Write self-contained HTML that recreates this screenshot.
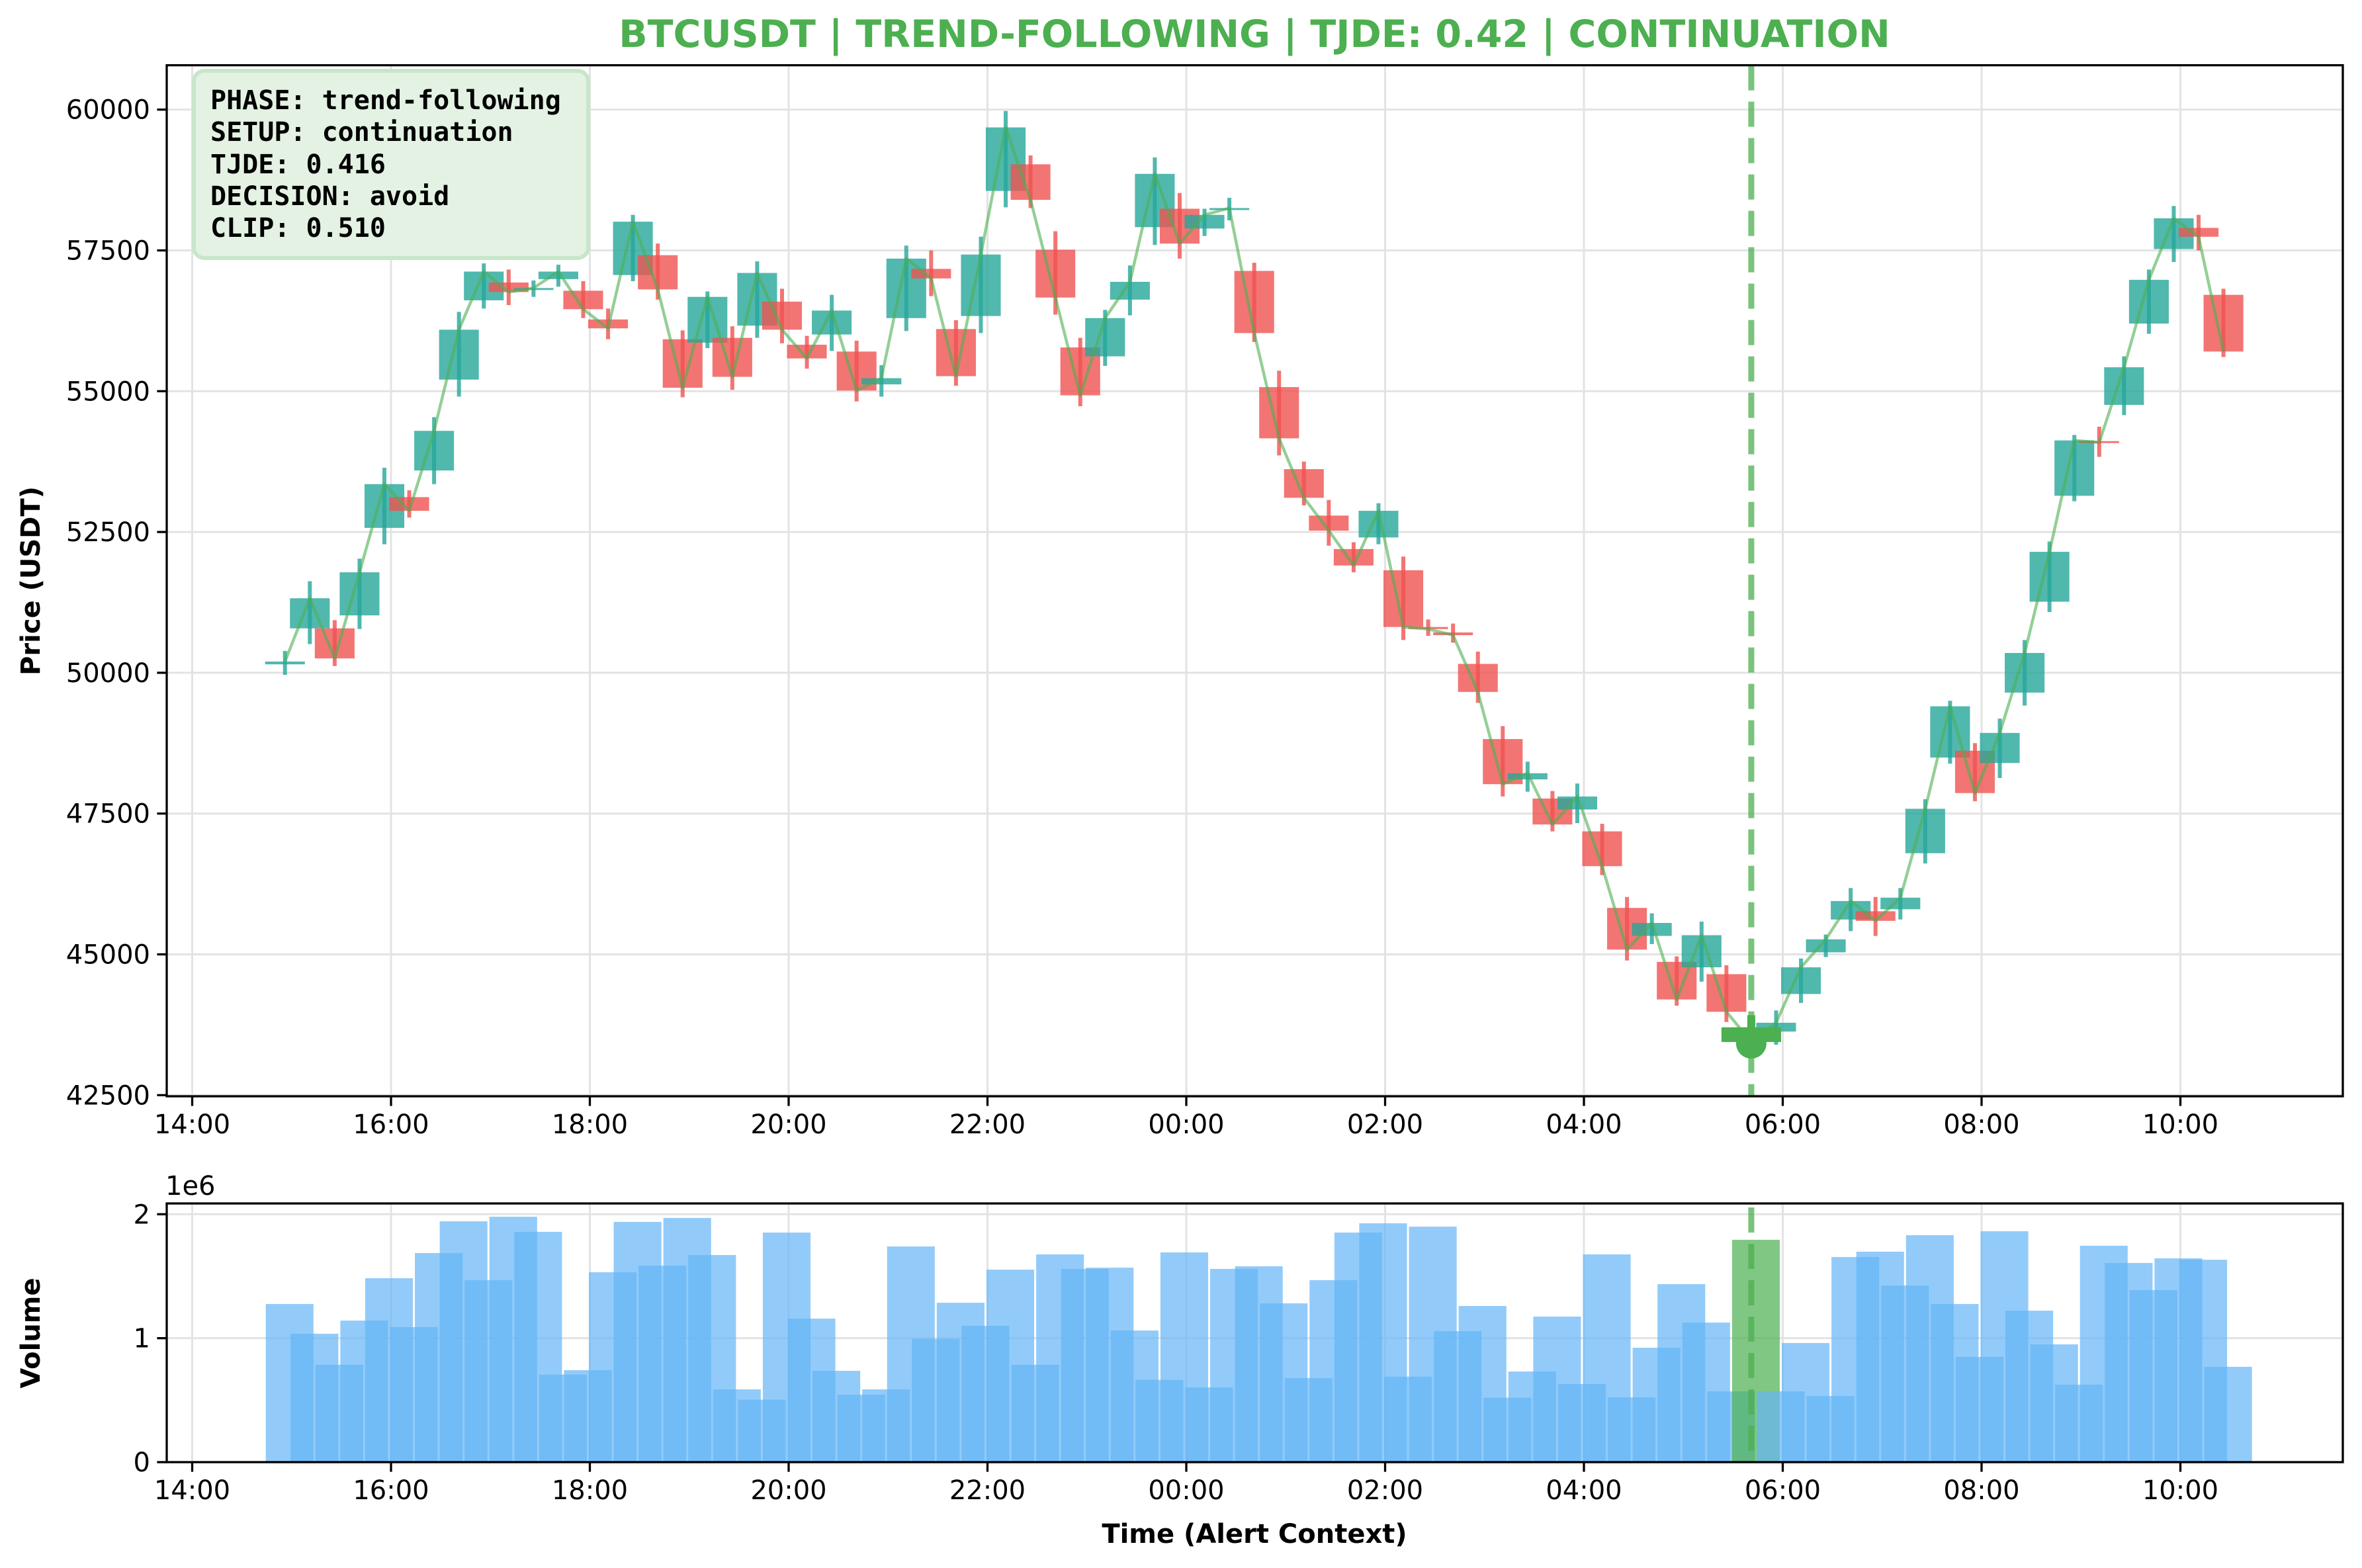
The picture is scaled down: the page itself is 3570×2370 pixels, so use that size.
<!DOCTYPE html>
<html>
<head>
<meta charset="utf-8">
<style>
html,body{margin:0;padding:0;background:#fff;}
svg{display:block;font-family:"DejaVu Sans","Liberation Sans",sans-serif;}
</style>
</head>
<body>
<svg id="chart" xmlns="http://www.w3.org/2000/svg" width="3570" height="2370" viewBox="0 0 3570 2370">
<rect x="0" y="0" width="3570" height="2370" fill="#fff"/>
<text x="1896" y="71" text-anchor="middle" font-size="57" font-weight="bold" fill="#4caf50">BTCUSDT | TREND-FOLLOWING | TJDE: 0.42 | CONTINUATION</text>
<g id="priceGrid"></g>
<g id="volGrid"></g>
<g id="volBars"></g>
<g id="candles"></g>
<g id="overlay"></g>
<g id="axes"></g>
<g>
<rect x="293" y="107" width="596" height="283" rx="16" ry="16" fill="#e3f2e3" stroke="#c8e6c9" stroke-width="6"/>
<text font-family="'DejaVu Sans Mono','Liberation Mono',monospace" font-size="40" font-weight="bold" fill="#000">
<tspan x="318" y="165">PHASE: trend-following</tspan>
<tspan x="318" y="213">SETUP: continuation</tspan>
<tspan x="318" y="262">TJDE: 0.416</tspan>
<tspan x="318" y="310">DECISION: avoid</tspan>
<tspan x="318" y="358">CLIP: 0.510</tspan>
</text>
</g>
<text x="60" y="878" text-anchor="middle" font-size="40" font-weight="bold" transform="rotate(-90 60 878)">Price (USDT)</text>
<text x="60" y="2015" text-anchor="middle" font-size="40" font-weight="bold" transform="rotate(-90 60 2015)">Volume</text>
<text x="1896" y="2332" text-anchor="middle" font-size="40" font-weight="bold">Time (Alert Context)</text>
<text x="250" y="1806" font-size="40">1e6</text>
</svg>
<script>
// ---- data ----
const candleOpen  = [50150,50789,50789,51019,52573,53119,53592,55206,56614,56930,56808,56990,56784,56274,57063,57415,55922,55862,55947,56165,56590,55825,56007,55704,55121,56298,57172,56104,56335,58556,59029,57512,55777,55619,56626,57913,58240,57888,58228,57136,55073,53616,52791,52197,52403,51820,50813,50716,50158,48823,48107,47767,47573,47184,45825,45328,44867,44770,44648,43705,43629,44296,45036,45619,45765,45801,46796,48495,48616,48398,49648,51262,53143,54114,54757,56201,57524,57900,56711];
const candleClose = [50200,51323,50255,51784,53350,52876,54296,56092,57124,56760,56832,57124,56456,56116,58010,56808,55061,56675,55255,57100,56092,55582,56432,55012,55231,57354,57002,55267,57427,59684,58398,56663,54927,56298,56942,58859,57621,58131,58252,56032,54163,53107,52524,51905,52876,50813,50777,50668,49660,48022,48216,47306,47803,46566,45085,45558,44199,45340,43980,43444,43786,44770,45267,45947,45595,46007,47585,49405,47864,48932,50352,52148,54126,54090,55425,56978,58070,57743,55704];
const candleHigh  = [50388,51626,50934,52027,53641,53240,54539,56408,57269,57160,56966,57245,56954,56468,58131,57621,56080,56772,56153,57306,56820,55983,56711,55898,55461,57585,57500,56262,57743,59976,59187,57840,55947,56444,57233,59150,58519,58240,58434,57281,55364,53750,53070,52318,53010,52063,50947,50874,50376,49053,48422,47900,48034,47318,46019,45728,44964,45582,44806,43920,44005,44927,45352,46177,46019,46177,47755,49502,48750,49187,50582,52330,54223,54369,55619,57160,58289,58131,56820];
const candleLow   = [49963,50510,50121,50777,52282,52755,53350,54903,56468,56529,56675,56857,56298,55922,56954,56626,54891,55764,55024,55947,55850,55400,55716,54818,54903,56068,56687,55097,56032,58265,58252,56359,54733,55449,56347,57597,57354,57755,58034,55874,53859,52973,52257,51784,52282,50582,50655,50534,49466,47803,47888,47184,47330,46408,44891,45182,44090,44515,43798,43380,43397,44138,44952,45413,45328,45619,46614,48386,47718,48131,49417,51080,53046,53835,54575,56019,57294,57500,55607];
const volumeMillions = [1.276,1.036,0.786,1.142,1.484,1.089,1.687,1.943,1.468,1.98,1.858,0.706,0.742,1.532,1.938,1.585,1.97,1.671,0.587,0.504,1.852,1.158,0.737,0.544,0.587,1.74,0.993,1.286,1.1,1.553,0.786,1.676,1.559,1.569,1.062,0.664,1.692,0.603,1.559,1.58,1.281,0.678,1.468,1.852,1.927,0.69,1.9,1.057,1.26,0.52,0.731,1.174,0.63,1.676,0.523,0.923,1.436,1.126,0.571,1.794,0.571,0.961,0.534,1.655,1.698,1.425,1.831,1.276,0.849,1.863,1.222,0.95,0.625,1.746,1.607,1.388,1.644,1.633,0.769];
const priceTicks = [42500,45000,47500,50000,52500,55000,57500,60000];
const volumeTicks = [0,1,2];
const timeTickMinutes = [0,120,240,360,480,600,720,840,960,1080,1200];
const timeTickLabels = ["14:00","16:00","18:00","20:00","22:00","00:00","02:00","04:00","06:00","08:00","10:00"];
const firstCandleMinute = 56;   // 14:56
const candleStepMinutes = 15;
const signalIndex = 59;         // 05:41

// ---- layout ----
const NS = "http://www.w3.org/2000/svg";
const AX = {left:252, right:3541};
const P = {top:98.6, bottom:1657, ymin:42480, ymax:60788};
const V = {top:1819, bottom:2210, ymin:0, ymax:2.087};
const PX_PER_MIN = 150.25/60, X0 = 290.5;
function xScale(m){ return X0 + m*PX_PER_MIN; }
function yPrice(v){ return P.bottom - (v-P.ymin)/(P.ymax-P.ymin)*(P.bottom-P.top); }
function yVol(v){ return V.bottom - (v-V.ymin)/(V.ymax-V.ymin)*(V.bottom-V.top); }
function candleMinute(i){ return firstCandleMinute + i*candleStepMinutes; }
function mk(tag, attrs, parent){
  const e = document.createElementNS(NS, tag);
  for (const k in attrs) e.setAttribute(k, attrs[k]);
  parent.appendChild(e); return e;
}
const gPG = document.getElementById('priceGrid');
const gVG = document.getElementById('volGrid');
const gVB = document.getElementById('volBars');
const gC = document.getElementById('candles');
const gO = document.getElementById('overlay');
const gA = document.getElementById('axes');

// grids
timeTickMinutes.forEach(m=>{
  const x = xScale(m);
  let l = mk('line',{x1:x,x2:x,y1:P.top,y2:P.bottom,stroke:'#e3e3e3','stroke-width':3},gPG);
  
  
  l = mk('line',{x1:x,x2:x,y1:V.top,y2:V.bottom,stroke:'#e3e3e3','stroke-width':3},gVG);
  
  
});
priceTicks.forEach(p=>{
  const y = yPrice(p);
  const l = mk('line',{x1:AX.left,x2:AX.right,y1:y,y2:y,stroke:'#e3e3e3','stroke-width':3},gPG);
  
  
});
volumeTicks.forEach(v=>{
  const y = yVol(v);
  const l = mk('line',{x1:AX.left,x2:AX.right,y1:y,y2:y,stroke:'#e3e3e3','stroke-width':3},gVG);
  
  
});

// volume bars
const volHalfW = 14.4*PX_PER_MIN;
volumeMillions.forEach((v,i)=>{
  const cx = xScale(candleMinute(i)) + 7;
  const y = yVol(v);
  const sig = i===signalIndex;
  const r = mk('rect',{x:cx-volHalfW,y:y,width:2*volHalfW,height:V.bottom-y,fill:sig?'#4caf50':'#64b5f6','fill-opacity':0.7},gVB);
  
  
});

// candles
const bodyHalf = 12*PX_PER_MIN;
candleOpen.forEach((o,i)=>{
  if (i===signalIndex) return;
  const c = candleClose[i], h = candleHigh[i], lo = candleLow[i];
  const up = c>=o;
  const col = up ? '#26a69a' : '#ef5350';
  const cx = xScale(candleMinute(i));
  const yt = yPrice(Math.max(o,c)), yb = yPrice(Math.min(o,c));
  const b = mk('rect',{x:cx-bodyHalf,y:yt,width:2*bodyHalf,height:Math.max(yb-yt,3),fill:col,'fill-opacity':0.8},gC);
  
  
  const w = mk('line',{x1:cx,x2:cx,y1:yPrice(h),y2:yPrice(lo),stroke:col,'stroke-width':6,'stroke-opacity':0.8},gC);
  
  
});

// close line
let pts = candleClose.map((c,i)=> xScale(candleMinute(i)).toFixed(1)+','+yPrice(c).toFixed(1)).join(' ');
const pl = mk('polyline',{points:pts,fill:'none',stroke:'#4caf50','stroke-opacity':0.6,'stroke-width':4.5,'stroke-linejoin':'round'},gO);



// signal candle
(function(){
  const i = signalIndex, cx = xScale(candleMinute(i));
  const o=candleOpen[i], c=candleClose[i];
  const yt=yPrice(Math.max(o,c)), yb=yPrice(Math.min(o,c));
  const b = mk('rect',{x:cx-18*PX_PER_MIN,y:yt,width:36*PX_PER_MIN,height:yb-yt,fill:'#4caf50'},gO);
  
  
  const w = mk('line',{x1:cx,x2:cx,y1:yPrice(candleHigh[i]),y2:yPrice(candleLow[i]),stroke:'#4caf50','stroke-width':12},gO);
  
  
  const m = mk('circle',{cx:cx,cy:yPrice(c)+2,r:23,fill:'#4caf50'},gO);
  
  
  const d1 = mk('line',{x1:cx,x2:cx,y1:P.top,y2:P.bottom,stroke:'#4caf50','stroke-opacity':0.75,'stroke-width':9,'stroke-dasharray':'38 17'},gO);
  
  
  const d2 = mk('line',{x1:cx,x2:cx,y1:V.top+6,y2:V.bottom,stroke:'#4caf50','stroke-opacity':0.75,'stroke-width':9,'stroke-dasharray':'38 17'},gO);
  
  
})();

// axes frames, ticks, labels
[[P.top,P.bottom,'price-axes-frame'],[V.top,V.bottom,'volume-axes-frame']].forEach(a=>{
  const r = mk('rect',{x:AX.left,y:a[0],width:AX.right-AX.left,height:a[1]-a[0],fill:'none',stroke:'#000','stroke-width':3.3},gA);
  
  
});
priceTicks.forEach(p=>{
  const y = yPrice(p);
  const t = mk('line',{x1:AX.left-14.6,x2:AX.left,y1:y,y2:y,stroke:'#000','stroke-width':3.3},gA);
  
  
  const lb = mk('text',{x:AX.left-25,y:y+14,'text-anchor':'end','font-size':40},gA);
  lb.textContent = String(p);
  
  
});
volumeTicks.forEach(v=>{
  const y = yVol(v);
  const t = mk('line',{x1:AX.left-14.6,x2:AX.left,y1:y,y2:y,stroke:'#000','stroke-width':3.3},gA);
  
  
  const lb = mk('text',{x:AX.left-25,y:y+14,'text-anchor':'end','font-size':40},gA);
  lb.textContent = String(v);
  
  
});
timeTickMinutes.forEach((m,k)=>{
  const x = xScale(m);
  [[P.bottom,'price'],[V.bottom,'volume']].forEach(a=>{
    const t = mk('line',{x1:x,x2:x,y1:a[0],y2:a[0]+14.6,stroke:'#000','stroke-width':3.3},gA);
    
    
    const lb = mk('text',{x:x,y:a[0]+56,'text-anchor':'middle','font-size':40},gA);
    lb.textContent = timeTickLabels[k];
    
    
  });
});
</script>
</body>
</html>
